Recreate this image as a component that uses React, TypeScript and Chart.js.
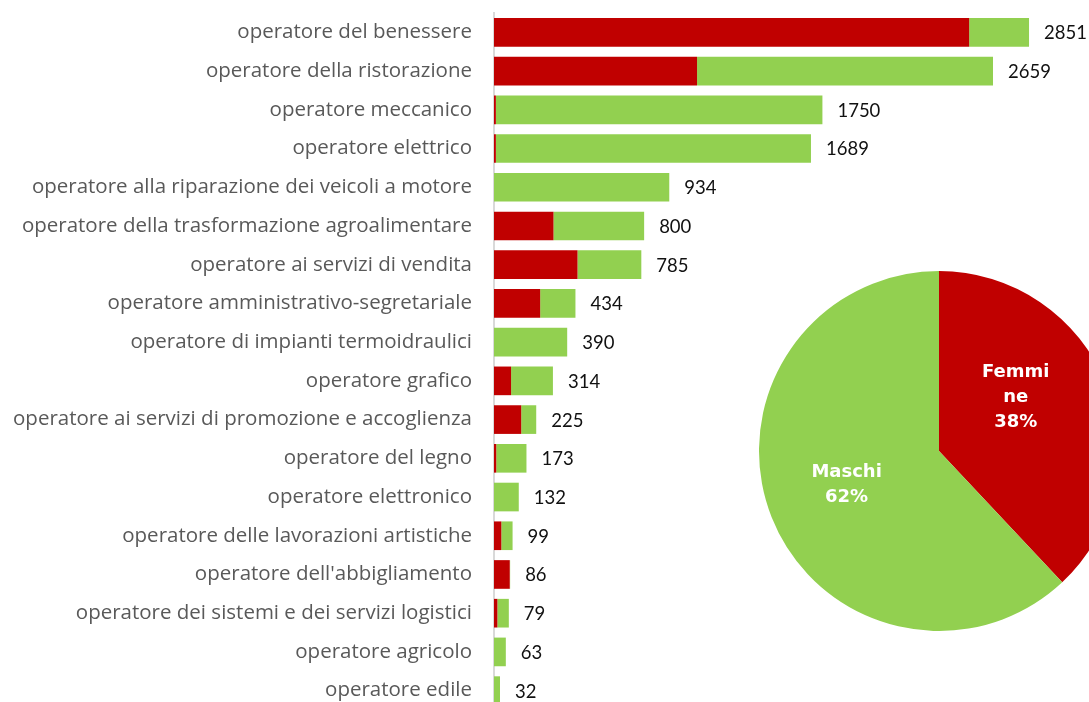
import React, { useEffect, useRef } from "react";
import { Chart, registerables } from "chart.js";

Chart.register(...registerables);

const categories = [
  "operatore del benessere",
  "operatore della ristorazione",
  "operatore meccanico",
  "operatore elettrico",
  "operatore alla riparazione dei veicoli a motore",
  "operatore della trasformazione agroalimentare",
  "operatore ai servizi di vendita",
  "operatore amministrativo-segretariale",
  "operatore di impianti termoidraulici",
  "operatore grafico",
  "operatore ai servizi di promozione e accoglienza",
  "operatore del legno",
  "operatore elettronico",
  "operatore delle lavorazioni artistiche",
  "operatore dell'abbigliamento",
  "operatore dei sistemi e dei servizi logistici",
  "operatore agricolo",
  "operatore edile",
];

const femmine = [2532, 1082, 10, 10, 0, 317, 445, 246, 0, 91, 145, 12, 0, 39, 84, 18, 0, 0];
const maschi = [319, 1577, 1740, 1679, 934, 483, 340, 188, 390, 223, 80, 161, 132, 60, 2, 61, 63, 32];

const pieLabels = [["Femmi", "ne"], ["Maschi"]];
const piePercent = [38, 62];

const RED = "#C00000";
const GREEN = "#92D050";

const totalsPlugin = {
  id: "totals",
  afterDatasetsDraw(chart: any) {
    const { ctx } = chart;
    const xs = chart.scales.x;
    const ys = chart.scales.y;
    ctx.save();
    ctx.font = "18.5px Lato";
    ctx.fillStyle = "#111111";
    ctx.textAlign = "left";
    ctx.textBaseline = "middle";
    categories.forEach((_, i) => {
      const total = femmine[i] + maschi[i];
      const x = xs.getPixelForValue(total) + 15;
      const y = ys.getPixelForValue(i);
      ctx.fillText(String(total), x, y + 1);
    });
    ctx.restore();
  },
};

const pieLabelPlugin = {
  id: "pieLabels",
  afterDatasetsDraw(chart: any) {
    const { ctx } = chart;
    const meta = chart.getDatasetMeta(0);
    const tweaks = [
      { dAngle: -13.4, rf: 0.52 },
      { dAngle: 1.4, rf: 0.547 },
    ];
    ctx.save();
    ctx.font = "bold 18px 'DejaVu Sans'";
    ctx.fillStyle = "#ffffff";
    ctx.textAlign = "center";
    ctx.textBaseline = "middle";
    meta.data.forEach((arc: any, i: number) => {
      const p = arc.getProps(["x", "y", "startAngle", "endAngle", "outerRadius"], true);
      const mid = (p.startAngle + p.endAngle) / 2 + (tweaks[i].dAngle * Math.PI) / 180;
      const r = p.outerRadius * tweaks[i].rf;
      const cx = p.x + Math.cos(mid) * r;
      const cy = p.y + Math.sin(mid) * r;
      const lines = [...pieLabels[i], piePercent[i] + "%"];
      const lh = 25;
      const start = cy - ((lines.length - 1) * lh) / 2;
      lines.forEach((t, k) => ctx.fillText(t, cx, start + k * lh));
    });
    ctx.restore();
  },
};

export default function App() {
  const barRef = useRef<HTMLCanvasElement>(null);
  const pieRef = useRef<HTMLCanvasElement>(null);

  useEffect(() => {
    document.body.style.margin = "0";
    const bar = new Chart(barRef.current as HTMLCanvasElement, {
      type: "bar",
      data: {
        labels: categories,
        datasets: [
          { label: "Femmine", data: femmine, backgroundColor: RED, borderWidth: 0 },
          { label: "Maschi", data: maschi, backgroundColor: GREEN, borderWidth: 0 },
        ],
      },
      options: {
        indexAxis: "y",
        responsive: false,
        animation: false,
        layout: { padding: { top: 13, bottom: 2, left: 0, right: 32 } },
        datasets: { bar: { categoryPercentage: 1, barPercentage: 0.74 } },
        plugins: { legend: { display: false }, tooltip: { enabled: false } },
        scales: {
          x: { stacked: true, min: 0, max: 3000, display: false },
          y: {
            stacked: true,
            grid: { display: false, drawTicks: false },
            border: { display: true, color: "#d9d9d9", width: 2 },
            ticks: {
              padding: 22,
              color: "#595959",
              font: { family: "'Open Sans'", size: 20.5 },
            },
            afterFit: (scale: any) => {
              scale.width = 494;
              scale.paddingTop = 0;
              scale.paddingBottom = 0;
            },
          },
        },
      } as any,
      plugins: [totalsPlugin],
    });

    const pie = new Chart(pieRef.current as HTMLCanvasElement, {
      type: "pie",
      data: {
        labels: ["Femmine", "Maschi"],
        datasets: [{ data: piePercent, backgroundColor: [RED, GREEN], borderWidth: 0 }],
      },
      options: {
        responsive: false,
        animation: false,
        plugins: { legend: { display: false }, tooltip: { enabled: false } },
      } as any,
      plugins: [pieLabelPlugin],
    });

    return () => {
      bar.destroy();
      pie.destroy();
    };
  }, []);

  return (
    <div
      style={{
        position: "fixed",
        left: 0,
        top: 0,
        width: "100vw",
        height: "100vh",
        overflow: "hidden",
        background: "#ffffff",
      }}
    >
      <canvas
        ref={barRef}
        width={1089}
        height={712}
        style={{ position: "absolute", left: 0, top: 0, width: 1089, height: 712 }}
      />
      <canvas
        ref={pieRef}
        width={360}
        height={360}
        style={{ position: "absolute", left: 759, top: 271, width: 360, height: 360 }}
      />
    </div>
  );
}
